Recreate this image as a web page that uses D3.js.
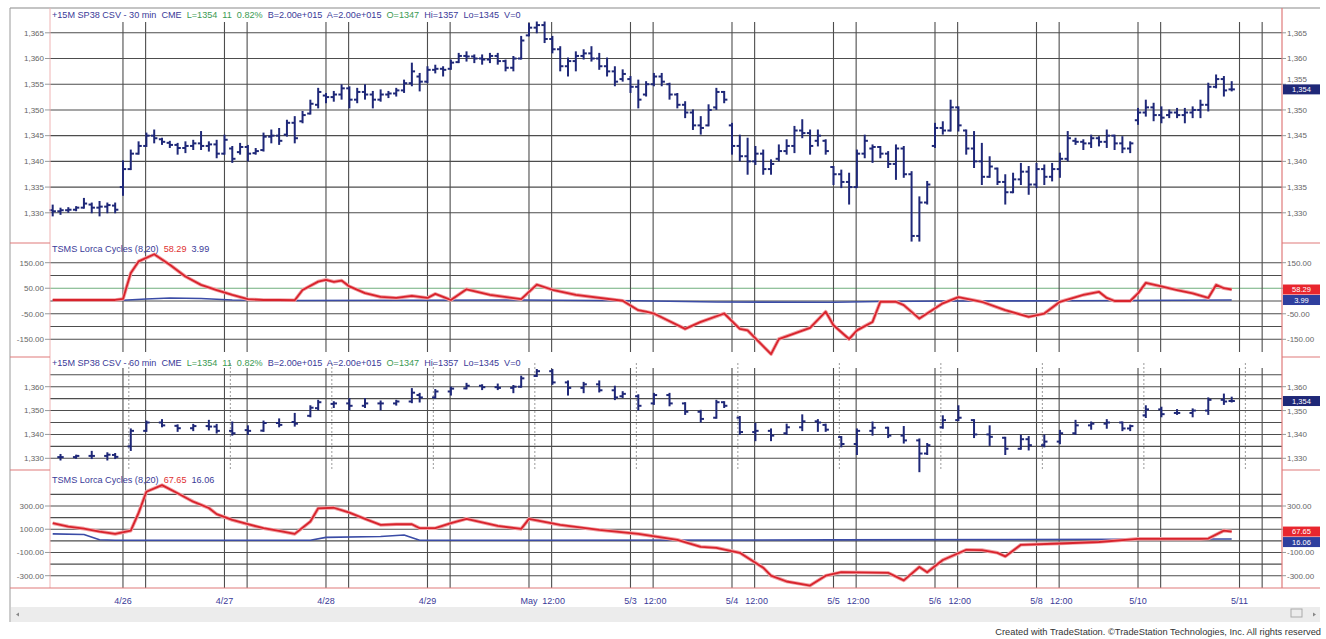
<!DOCTYPE html>
<html><head><meta charset="utf-8">
<script src="https://cdn.jsdelivr.net/npm/d3@7"></script>
<style>html,body{margin:0;padding:0;background:#fff;}svg{display:block;font-family:"Liberation Sans",Arial,sans-serif;}</style>
</head><body><svg id="c" width="1326" height="639"></svg>
<script>
// ---------------- DATA ----------------
const dayLabels = ["4/26","4/27","4/28","4/29","May","5/3","5/4","5/5","5/6","5/8","5/10","5/11"];
const noonShown = [0,0,0,0,1,1,1,1,1,1,0,0];
const noonLabel = "12:00";
const barsPerDay = 13;
const firstDayBar = 9;          // index of the first bar of 4/26
// 30-minute bars: [open, high, low, close]
const bars30 = [
[1330.5,1331.4,1329.5,1330.3],[1330.3,1330.8,1329.8,1330.5],[1330.5,1330.9,1330.2,1330.6],[1330.6,1331.1,1330.5,1331],
[1331,1332.7,1331,1331.8],[1331.6,1331.8,1330.1,1331],[1331,1332.1,1329.5,1331.2],[1331.2,1331.8,1330.1,1331.5],[1331.4,1331.8,1330.1,1330.6],
[1335,1340,1333.5,1338.5],[1338.5,1342.1,1338.5,1341.5],[1341.5,1343.7,1341.5,1343],[1343,1345.4,1343,1345],[1345,1346,1343.7,1344.5],
[1344.3,1344.4,1343.4,1343.8],[1343.6,1343.8,1342.8,1343.2],[1343.2,1343.4,1341.5,1342.6],[1342.6,1343.7,1341.8,1343],[1343,1344,1342.4,1343.5],
[1343.5,1345.7,1342.4,1343],[1343,1343.7,1342.1,1343.3],[1343.3,1344,1340.8,1341.5],
[1341.5,1345,1341.5,1344.2],[1342.5,1342.8,1339.9,1340.5],[1341.8,1343.4,1341.5,1342.8],[1342.8,1343,1340.2,1341.5],[1341.6,1342.4,1341.5,1342],
[1342.2,1345.4,1342.1,1344.8],[1344.8,1346,1343.7,1345],[1345,1346.3,1343.4,1344],[1345.2,1347.9,1345,1347.5],[1347.5,1348.6,1343.7,1344.5],
[1347.8,1349.6,1347.6,1349],[1349.3,1351.8,1349.3,1351.2],[1351,1354.1,1350.5,1353.5],
[1352.8,1353.1,1351.5,1352.5],[1352.5,1353.5,1351.8,1353],[1353,1354.8,1352.2,1354.2],[1354.2,1354.4,1350.5,1352],[1352,1354.1,1351.5,1353.5],
[1353.5,1354.8,1352.2,1353],[1353,1353.5,1350.5,1352],[1352,1353.8,1351.8,1353],[1353,1353.5,1352.5,1353.2],[1353.2,1354.1,1352.8,1353.8],
[1353.8,1355.7,1353.5,1355.2],[1355.2,1359,1354.8,1357.5],[1356.5,1357,1353.8,1355.5],
[1355.5,1358.3,1355.4,1357.8],[1357.8,1358.6,1357.3,1358],[1358,1358.3,1356.7,1357.8],[1358,1359.6,1358,1359.2],[1359.3,1360.9,1359.3,1360.5],
[1360.5,1361.2,1359.6,1360.4],[1360.4,1360.6,1359.3,1360],[1360,1360.6,1359,1359.8],[1359.8,1360.9,1359.3,1360.5],[1360.5,1360.9,1359,1359.5],
[1359.5,1359.6,1357.7,1358.2],[1358.2,1360.3,1357.7,1360],[1360,1364.2,1360,1363.5],
[1364.5,1366.7,1364.5,1366],[1366,1367,1365.1,1366.5],[1366.5,1367,1363.2,1363.8],[1363.8,1364.2,1361.2,1361.8],[1361.8,1362.2,1357.7,1358.5],
[1358.5,1360,1356.7,1359.5],[1359.5,1361.2,1357.7,1360.5],[1360.5,1361.6,1360,1361],[1361,1362.2,1359.6,1360],[1360,1360.9,1358,1358.5],
[1358.5,1360,1356.7,1357.5],[1357.5,1358.3,1354.8,1355.5],[1356,1357.7,1355.7,1357],
[1356,1356.4,1353.5,1354.5],[1354.5,1355.7,1350.5,1352],[1353,1355.4,1352.8,1355],[1355,1357,1354.8,1356.5],[1356.5,1357,1354.8,1355.5],
[1355,1355.1,1352.2,1353],[1353,1353.1,1350.5,1351],[1351,1351.5,1348.6,1349.5],[1349.5,1349.9,1346.3,1347],[1347,1348.6,1345.4,1346.5],
[1347,1350.9,1347,1350],[1350.5,1354.1,1350.2,1353.5],[1353.5,1353.5,1351.5,1352],
[1347,1347.3,1341.5,1343],[1343,1345,1340.2,1341],[1341,1344.4,1337.6,1340],[1340,1342.8,1339.5,1341.5],[1341.5,1342.1,1337.6,1338.5],
[1338.5,1340.2,1337.6,1339.5],[1340.5,1343.1,1340.2,1342],[1342,1344.1,1341.5,1343],[1343,1346.7,1341.8,1346],[1346,1348,1344.7,1345.5],
[1345.5,1346,1341.5,1343],[1344,1346,1343.1,1345],[1344,1344.1,1341.5,1342],
[1338.9,1338.9,1335.6,1337.5],[1337.5,1338.2,1335,1336],[1336,1337.6,1331.8,1335],[1335,1342.1,1335,1341.5],[1341.5,1345,1340.8,1344],
[1342.5,1343.1,1339.9,1342.8],[1342.8,1342.8,1340.8,1341.5],[1341.5,1341.8,1338.9,1339.5],[1339.5,1343.1,1336.6,1342.5],[1342.5,1342.8,1337,1337.5],
[1337.5,1337.9,1324.6,1325.5],[1325.5,1333,1324.6,1332],[1332,1336,1331.8,1335.5],
[1343,1347.3,1342.8,1346.5],[1346.5,1347.6,1345.4,1346],[1346,1351.8,1346,1350.5],[1350.5,1350.5,1346,1347],[1346,1346,1341.5,1342.5],
[1342.5,1345.7,1338.9,1340],[1340,1343.4,1335.6,1337],[1337,1340.8,1337,1339],[1338.6,1338.6,1335.6,1336],[1336,1337.3,1331.8,1334],
[1334,1337.6,1334,1336.5],[1336.5,1339.5,1335.6,1338],[1338,1338.9,1333.7,1335.5],
[1335.5,1339.5,1335,1338.5],[1338.5,1339.2,1335.6,1337],[1337,1339.5,1336.3,1338.5],[1338.5,1341.5,1337,1340.5],[1340.5,1345.7,1340.2,1344.5],
[1344,1344.4,1343.4,1343.8],[1343.8,1344.1,1342.4,1343.5],[1343.5,1345,1342.8,1344.5],[1344.5,1344.7,1343.1,1343.8],[1343.8,1346,1342.8,1345],
[1345,1345,1342.4,1343.5],[1343.5,1344.7,1341.8,1342.5],[1342.5,1343.7,1341.8,1343.5],
[1348,1350.2,1347.3,1349.5],[1349.5,1351.8,1348.9,1350.5],[1350.5,1351.2,1348,1349],[1349,1350.5,1347.6,1348.5],[1349,1349.9,1348.6,1349.5],
[1349.5,1350.2,1348.6,1349],[1349,1350.2,1347.6,1349.5],[1349.5,1350.5,1348.6,1350],[1350,1351.8,1348.6,1351],[1351,1355.1,1349.9,1354.5],
[1354.5,1356.7,1354.4,1356],[1356,1356.4,1352.8,1353.8],[1354,1355.4,1353.8,1354]
];
// Lorca cycles on 30-min data: [bar index, value]
const lorca30Red = [[0,4],[8,4],[9,8],[10,110],[11,155],[13,183],[15,142],[17,96],[19,63],[21,43],[23,24],[25,7],[27,4],[29,4],[31,3],
[32,43],[34,76],[35,83],[36,75],[37,80],[38,57],[40,31],[42,16],[44,12],[46,20],[48,12],[49,28],[50,16],[51,4],[53,46],[56,24],[60,7],
[62,64],[64,44],[67,24],[73,1],[75,-36],[76,-42],[77,-49],[81,-109],[83,-82],[86,-49],[88,-109],[89,-115],[92,-208],[93,-149],[97,-105],
[99,-42],[100,-95],[102,-149],[103,-115],[105,-82],[106,-3],[108,-3],[109,-16],[111,-69],[114,-9],[116,15],[119,-3],[122,-36],[125,-62],
[127,-49],[129,-3],[132,24],[134,36],[135,12],[136,0],[138,0],[139,30],[140,71],[142,57],[144,43],[146,30],[148,12],[149,63],[150,50],[151,45]];
const lorca30Blue = [[0,3],[9,3],[12,8],[15,12],[19,10],[23,4],[30,2],[45,3],[60,4],[75,1],[85,-4],[100,-5],[106,-2],[115,0],[130,1],[151,4]];
// Lorca cycles on 60-min data
const lorca60Red = [[0,152],[2,123],[4,105],[6,80],[8,60],[10,88],[11,240],[12,423],[14,480],[16,410],[18,337],[20,283],[21,230],[23,180],
[25,143],[27,109],[29,85],[31,60],[33,166],[34,280],[36,285],[38,243],[40,189],[42,137],[44,143],[46,143],[47,109],[49,109],[51,152],[53,190],
[57,128],[60,103],[61,189],[65,137],[70,94],[75,60],[80,9],[83,-51],[85,-60],[88,-103],[91,-231],[92,-300],[94,-350],[97,-385],[99,-300],
[101,-270],[107,-275],[109,-340],[111,-225],[112,-270],[114,-165],[117,-77],[119,-80],[121,-103],[122,-134],[124,-34],[129,-23],[134,-10],
[139,17],[147,17],[148,20],[150,88],[151,80]];
const lorca60Blue = [[0,60],[4,55],[6,10],[8,5],[33,5],[35,30],[42,37],[45,51],[47,5],[100,8],[151,16]];
// header values
const hdrPrice30 = [["+15M SP38 CSV - 30 min  CME  ","n"],["L=1354  11  0.82%  ","g"],["B=2.00e+015  A=2.00e+015  ","n"],["O=1347  ","g"],["Hi=1357  Lo=1345  V=0","n"]];
const hdrPrice60 = [["+15M SP38 CSV - 60 min  CME  ","n"],["L=1354  11  0.82%  ","g"],["B=2.00e+015  A=2.00e+015  ","n"],["O=1347  ","g"],["Hi=1357  Lo=1345  V=0","n"]];
const lorcaName = "TSMS Lorca Cycles (8,20)";
const lorca30Last = [58.29, 3.99];
const lorca60Last = [67.65, 16.06];
const ticksP1 = [1365,1360,1355,1350,1345,1340,1335,1330];
const gridP2 = [150,100,50,0,-50,-100,-150], ticksP2 = [150,50,-50,-150];
const gridP3 = [1365,1360,1355,1350,1345,1340,1335,1330], ticksP3 = [1360,1350,1340,1330];
const gridP4 = [400,300,200,100,0,-100,-200,-300], ticksP4 = [300,100,-100,-300];
const credit = "Created with TradeStation. \u00A9TradeStation Technologies, Inc. All rights reserved";

// ---------------- DRAW ----------------
const svg = d3.select("#c");
const NAVY="#1f2878", RED="#d8232c", BLUE="#3b4ca6", GRID="#4d4d4d", BORDER="#e07a7a";
const TXT={n:"#3a3a98",g:"#3a9a52",r:"#e03030"};
const X0=50, X1=1282;
const x = d3.scaleLinear().domain([0,151]).range([52.7,1231.7]);
const fmtP = d3.format(",");
const loc = d3.formatLocale({decimal:".",thousands:",",grouping:[3],currency:["$",""],minus:"-"});
const fmtI = loc.format(".2f");

const P = [
 {top:8,bottom:243,y:d3.scaleLinear().domain([1330,1365]).range([212.8,32.8]),grid:ticksP1,ticks:ticksP1,fmt:fmtP,hdrY:18,boxes:[]},
 {top:243,bottom:357,y:d3.scaleLinear().domain([-150,150]).range([339.3,262.7]),grid:gridP2,ticks:ticksP2,fmt:fmtI,hdrY:251.5,boxes:[]},
 {top:357,bottom:470,y:d3.scaleLinear().domain([1330,1360]).range([458.3,386.7]),grid:gridP3,ticks:ticksP3,fmt:fmtP,hdrY:366,boxes:[]},
 {top:470,bottom:588,y:d3.scaleLinear().domain([-300,300]).range([575.7,506]),grid:gridP4,ticks:ticksP4,fmt:fmtI,hdrY:482.5,boxes:[]}
];

svg.append("rect").attr("width",1326).attr("height",639).attr("fill","#fff");

// horizontal grids
P.forEach((p,pi)=>{
  svg.append("g").selectAll("line").data(p.grid).join("line")
    .attr("x1",X0).attr("x2",X1).attr("y1",d=>p.y(d)).attr("y2",d=>p.y(d))
    .attr("stroke",d=>(pi===1&&d===50)?"#6fae7c":GRID).attr("stroke-width",1.1);
});

// vertical session lines
const dayIdx = dayLabels.map((d,k)=>firstDayBar+barsPerDay*k);
const noonIdx = dayIdx.map(d=>d+2.9);
const vIdx = dayIdx.concat(noonIdx);
[[22,352],[368,588]].forEach(([a,b])=>{
  svg.append("g").selectAll("line").data(vIdx).join("line")
    .attr("x1",d=>x(d)).attr("x2",d=>x(d)).attr("y1",a).attr("y2",b)
    .attr("stroke",GRID).attr("stroke-width",1.1);
});
// dotted lines in 60-min panel
svg.append("g").selectAll("line").data(dayIdx).join("line")
  .attr("x1",d=>x(d+0.75)).attr("x2",d=>x(d+0.75)).attr("y1",363).attr("y2",470)
  .attr("stroke","#9a9a9a").attr("stroke-width",1).attr("stroke-dasharray","2,2");

// OHLC drawing
function drawOHLC(data, y, tick){
  const g = svg.append("g").attr("stroke",NAVY).attr("stroke-width",2);
  g.selectAll("line.v").data(data).join("line").attr("class","v")
    .attr("x1",d=>x(d.i)).attr("x2",d=>x(d.i)).attr("y1",d=>y(d.h)-1).attr("y2",d=>y(d.l)+1);
  g.selectAll("line.o").data(data).join("line").attr("class","o")
    .attr("x1",d=>x(d.i)-tick).attr("x2",d=>x(d.i)).attr("y1",d=>y(d.o)).attr("y2",d=>y(d.o));
  g.selectAll("line.c").data(data).join("line").attr("class","c")
    .attr("x1",d=>x(d.i)).attr("x2",d=>x(d.i)+tick).attr("y1",d=>y(d.c)).attr("y2",d=>y(d.c));
}
const b30 = bars30.map((b,i)=>({i,o:b[0],h:b[1],l:b[2],c:b[3]}));
drawOHLC(b30, P[0].y, 3.2);

// 60-min bars aggregated from the 30-min bars
function dayPos(i){ return i<firstDayBar ? {d:-1,j:i+(barsPerDay-firstDayBar)} : {d:Math.floor((i-firstDayBar)/barsPerDay), j:(i-firstDayBar)%barsPerDay}; }
const groups = d3.groups(b30, b=>{const p=dayPos(b.i); return p.d+"_"+Math.floor(p.j/2);});
const b60 = groups.map(([k,arr])=>({i:arr[arr.length-1].i,o:arr[0].o,h:d3.max(arr,a=>a.h),l:d3.min(arr,a=>a.l),c:arr[arr.length-1].c}));
drawOHLC(b60, P[2].y, 3.2);

// Lorca lines
function drawLine(data, y, color, isRed){
  const ln = d3.line().x(d=>x(d[0])).y(d=>y(d[1]));
  if(isRed){
    svg.append("path").attr("d",ln(data)).attr("fill","none").attr("stroke","#f2a0a4").attr("stroke-width",3.6).attr("stroke-linejoin","round");
    svg.append("path").attr("d",ln(data)).attr("fill","none").attr("stroke",color).attr("stroke-width",1.8).attr("stroke-linejoin","round");
  } else {
    svg.append("path").attr("d",ln(data)).attr("fill","none").attr("stroke",color).attr("stroke-width",1.6).attr("stroke-linejoin","round");
  }
}
drawLine(lorca30Blue, P[1].y, BLUE, false);
drawLine(lorca30Red, P[1].y, RED, true);
drawLine(lorca60Blue, P[3].y, BLUE, false);
drawLine(lorca60Red, P[3].y, RED, true);

// frame and borders
svg.append("line").attr("x1",10).attr("x2",1320).attr("y1",8).attr("y2",8).attr("stroke","#8a8a8a").attr("stroke-width",1.2);
svg.append("line").attr("x1",10).attr("x2",10).attr("y1",8).attr("y2",622).attr("stroke","#9a9a9a").attr("stroke-width",1);
svg.append("line").attr("x1",X0).attr("x2",X0).attr("y1",8).attr("y2",588).attr("stroke","#efb4b4").attr("stroke-width",1);
svg.append("line").attr("x1",X1).attr("x2",X1).attr("y1",8).attr("y2",588).attr("stroke",BORDER).attr("stroke-width",1.2);
[243,357,470].forEach(yy=>{
  svg.append("line").attr("x1",10).attr("x2",X0).attr("y1",yy).attr("y2",yy).attr("stroke",BORDER).attr("stroke-width",1.2);
  svg.append("line").attr("x1",X1).attr("x2",1320).attr("y1",yy).attr("y2",yy).attr("stroke",BORDER).attr("stroke-width",1.2);
});
svg.append("line").attr("x1",10).attr("x2",1320).attr("y1",588).attr("y2",588).attr("stroke",BORDER).attr("stroke-width",1.2);

// right-axis value boxes (positions first, drawn after tick labels)
const lastBar = bars30[bars30.length-1];
P[0].boxes.push({yc:P[0].y(lastBar[3]),fill:NAVY,label:fmtP(lastBar[3])});
P[2].boxes.push({yc:P[2].y(lastBar[3]),fill:NAVY,label:fmtP(lastBar[3])});
{
  const r = P[1].y(lorca30Red[lorca30Red.length-1][1]);
  const b = Math.max(P[1].y(lorca30Blue[lorca30Blue.length-1][1]), r+10.5);
  P[1].boxes.push({yc:r,fill:"#e8262e",label:fmtI(lorca30Last[0])},{yc:b,fill:"#2f3f9e",label:fmtI(lorca30Last[1])});
  const r4 = P[3].y(lorca60Red[lorca60Red.length-1][1]);
  const b4 = Math.max(P[3].y(lorca60Blue[lorca60Blue.length-1][1]), r4+10.5);
  P[3].boxes.push({yc:r4,fill:"#e8262e",label:fmtI(lorca60Last[0])},{yc:b4,fill:"#2f3f9e",label:fmtI(lorca60Last[1])});
}

// axis ticks & labels
P.forEach(p=>{
  const gl = svg.append("g");
  gl.selectAll("line.l").data(p.ticks).join("line").attr("class","l")
    .attr("x1",45).attr("x2",X0).attr("y1",d=>p.y(d)).attr("y2",d=>p.y(d)).attr("stroke","#999");
  gl.selectAll("text.l").data(p.ticks).join("text").attr("class","l")
    .attr("x",44).attr("y",d=>p.y(d)).attr("dy","0.35em").attr("text-anchor","end")
    .attr("font-size",8).attr("fill","#666").text(d=>p.fmt(d));
  gl.selectAll("line.r").data(p.ticks).join("line").attr("class","r")
    .attr("x1",X1).attr("x2",X1+4).attr("y1",d=>p.y(d)).attr("y2",d=>p.y(d)).attr("stroke","#999");
  // right labels: those hidden behind a value box in the reference are dropped, near ones nudged clear
  const rl = p.ticks.map(t=>{
    let yy = p.y(t), show = true;
    p.boxes.forEach(b=>{
      const dd = yy - b.yc;
      if (Math.abs(dd) < 4) show = false;
      else if (Math.abs(dd) < 10) yy = b.yc + (dd<0 ? -10 : 10);
    });
    return {t, yy, show};
  }).filter(o=>o.show);
  gl.selectAll("text.r").data(rl).join("text").attr("class","r")
    .attr("x",X1+5).attr("y",d=>d.yy).attr("dy","0.35em").attr("text-anchor","start")
    .attr("font-size",8).attr("fill","#666").text(d=>p.fmt(d.t));
});

// value boxes
P.forEach(p=>p.boxes.forEach(bx=>{
  svg.append("rect").attr("x",X1+1).attr("y",bx.yc-5).attr("width",37).attr("height",10).attr("fill",bx.fill);
  svg.append("text").attr("x",X1+19.5).attr("y",bx.yc).attr("dy","0.35em").attr("text-anchor","middle")
    .attr("font-size",7.5).attr("fill","#fff").text(bx.label);
}));

// headers
function header(p, segs){
  const t = svg.append("text").attr("x",52).attr("y",p.hdrY).attr("font-size",9.1).style("white-space","pre");
  segs.forEach(s=>t.append("tspan").attr("fill",TXT[s[1]]).text(s[0]));
}
header(P[0], hdrPrice30);
header(P[1], [[lorcaName+"  ","n"],[lorca30Last[0].toFixed(2)+"  ","r"],[lorca30Last[1].toFixed(2),"n"]]);
header(P[2], hdrPrice60);
header(P[3], [[lorcaName+"  ","n"],[lorca60Last[0].toFixed(2)+"  ","r"],[lorca60Last[1].toFixed(2),"n"]]);

// x labels
svg.append("g").selectAll("text").data(dayLabels).join("text")
  .attr("x",(d,k)=>x(dayIdx[k])).attr("y",604).attr("text-anchor","middle")
  .attr("font-size",9).attr("fill","#3a3a98").text(d=>d);
svg.append("g").selectAll("text").data(noonIdx.filter((d,k)=>noonShown[k])).join("text")
  .attr("x",d=>x(d)+2).attr("y",604).attr("text-anchor","middle")
  .attr("font-size",9).attr("fill","#3a3a98").text(noonLabel);

// scrollbar band
svg.append("rect").attr("x",11).attr("y",607).attr("width",1309).attr("height",15).attr("fill","#ececec");
svg.append("path").attr("d","M16,614.5 l3,-2 v4 z").attr("fill","#888");
svg.append("path").attr("d","M1313,612.5 l3,2 l-3,2 z").attr("fill","#888");
svg.append("rect").attr("x",1291).attr("y",609).attr("width",11).attr("height",8).attr("fill","none").attr("stroke","#aaa");

// credit
svg.append("text").attr("x",1321).attr("y",635).attr("text-anchor","end").attr("font-size",9.3).attr("fill","#333").text(credit);
</script></body></html>
